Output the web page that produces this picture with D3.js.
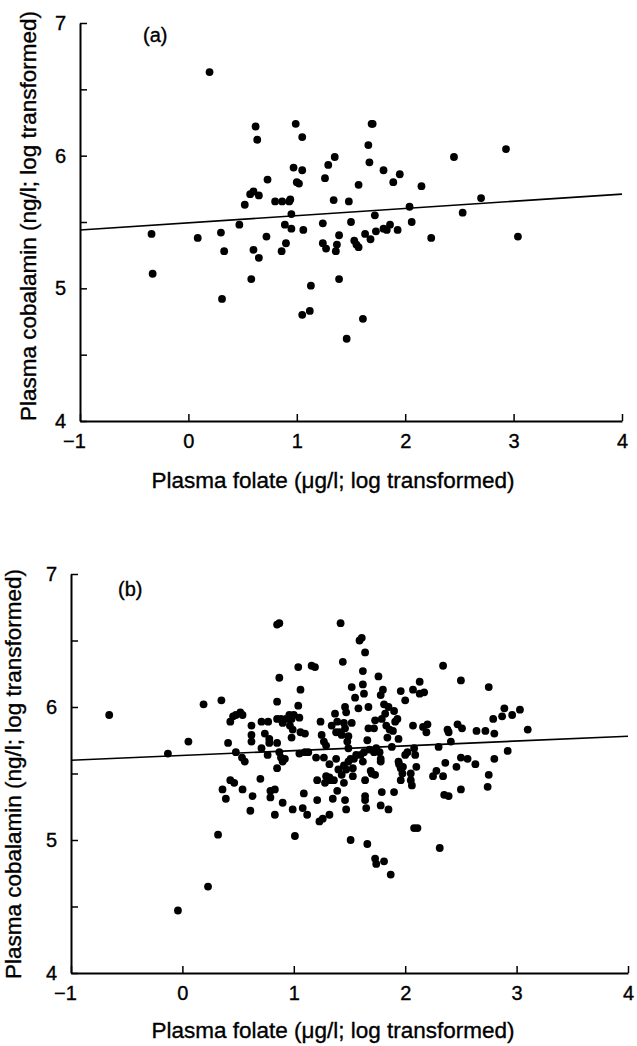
<!DOCTYPE html>
<html>
<head>
<meta charset="utf-8">
<script src="https://cdn.jsdelivr.net/npm/d3@7"></script>
<style>
  body { margin: 0; background: #fff; }
  svg { display: block; font-family: "Liberation Sans", Arial, sans-serif; }
  text { stroke: #000; stroke-width: 0.35px; }
</style>
</head>
<body>
<svg id="chart" width="637" height="1046"></svg>
<script>
// panel (a) points: folate (x) and cobalamin (y), both log transformed
var aFolate = [0.195, -0.34, -0.33, 0.086, 0.30, 0.33, 0.31, 0.47, 0.52, 0.57, 0.60, 0.65, 0.62, 0.635,
  0.73, 0.60, 0.65, 0.58, 0.72, 0.80, 0.865, 0.94, 0.93, 0.89, 0.95, 0.95, 0.86, 0.90, 0.97, 0.99,
  1.00, 1.02, 1.05, 1.05, 1.06, 1.13, 1.05, 1.12, 1.24, 1.26, 1.29, 1.35, 1.34, 1.24, 1.27, 1.36,
  1.37, 1.39, 1.39, 1.46, 1.48, 1.50, 1.57, 1.53, 1.55, 1.57, 1.61, 1.63, 1.66, 1.67, 1.69, 1.70,
  1.72, 1.68, 1.73, 1.80, 1.80, 1.83, 1.86, 1.89, 1.95, 1.93, 2.04, 2.06, 2.15, 2.24, 2.45, 2.53,
  2.70, 2.93, 3.04];
var aCobal = [6.63, 5.41, 5.11, 5.38, 5.42, 5.28, 4.92, 5.48, 5.63, 5.71, 5.73, 5.70, 6.22, 6.12,
  5.82, 5.29, 5.23, 5.07, 5.39, 5.655, 5.655, 5.67, 5.655, 5.48, 5.45, 5.56, 5.28, 5.34, 5.91, 6.24,
  5.80, 5.79, 5.89, 6.14, 5.44, 5.02, 4.80, 4.83, 5.49, 5.83, 5.93, 5.99, 5.665, 5.34, 5.30, 5.28,
  5.33, 5.40, 5.07, 4.62, 5.655, 5.50, 5.78, 5.36, 5.33, 5.31, 4.77, 5.41, 6.08, 5.95, 6.24, 6.24,
  5.55, 5.37, 5.43, 5.89, 5.45, 5.44, 5.48, 5.80, 5.86, 5.44, 5.615, 5.50, 5.77, 5.38, 5.99, 5.57,
  5.68, 6.05, 5.39];
var aFit = [5.44, 5.71];   // fitted cobalamin at x = -1 and x = 4

// panel (b) points
var bFolate = [-0.657, -0.13, 0.054, 0.19, 0.35, 0.32, 0.23, -0.04,
  0.41, 0.43, 0.455, 0.48, 0.52, 0.54, 0.48, 0.535, 0.56, 0.43, 0.465, 0.36, 0.39, 0.54,
  0.62, 0.62, 0.62, 0.63, 0.61, 0.70, 0.71, 0.71, 0.77, 0.74, 0.78, 0.765, 0.78, 0.79, 0.79, 0.83,
  0.83, 0.85, 0.85, 0.87, 0.87, 0.85, 0.885, 0.90, 0.85, 0.87, 0.85, 0.885, 0.90, 0.92, 0.90,
  0.93, 0.96, 0.98, 0.965, 0.99, 0.98, 1.00, 1.05, 1.06, 1.10, 1.04, 1.06, 1.04, 0.99, 1.01,
  1.08, 1.09, 1.12, 1.05, 1.10, 1.13, 1.16, 1.19, 1.20, 1.21, 1.21, 1.23, 1.26, 1.32,
  1.24, 1.25, 1.27, 1.29, 1.27, 1.29, 1.28, 1.32, 1.32, 1.33, 1.35, 1.36, 1.37, 1.34, 1.39,
  1.38, 1.41, 1.43, 1.38, 1.40, 1.39, 1.42, 1.44, 1.46, 1.47, 1.45, 1.46, 1.49, 1.48, 1.49,
  1.45, 1.43, 1.45, 1.47, 1.49, 1.46, 1.47, 1.51, 1.52, 1.52, 1.55, 1.51, 1.54, 1.56, 1.53,
  1.53, 1.58, 1.59, 1.61, 1.62, 1.62, 1.63, 1.64, 1.60, 1.62, 1.63, 1.64, 1.64, 1.64, 1.65,
  1.66, 1.67, 1.66, 1.67, 1.68, 1.69, 1.70, 1.72, 1.73, 1.72, 1.73, 1.74, 1.76, 1.77, 1.78,
  1.78, 1.80, 1.79, 1.78, 1.79, 1.78, 1.73, 1.74, 1.81, 1.87, 1.85, 1.81, 1.82, 1.83, 1.84,
  1.85, 1.86, 1.88, 1.89, 1.90, 1.91, 1.93, 1.94, 1.90, 1.94, 1.945, 1.96, 1.975, 1.98, 1.96,
  2.00, 1.96, 2.00, 2.02, 2.05, 2.05, 2.06, 2.07, 2.07, 2.08, 2.09, 2.10, 2.13, 2.13, 2.17,
  2.16, 2.19, 2.20, 2.08, 2.11, 2.25, 2.28, 2.30, 2.34, 2.34, 2.35, 2.36, 2.38, 2.39, 2.39,
  2.41, 2.31, 2.46, 2.47, 2.50, 2.51, 2.50, 2.50, 2.56, 2.63, 2.64, 2.72, 2.75, 2.74, 2.75,
  2.79, 2.80, 2.80, 2.87, 2.89, 2.92, 2.96, 3.03, 3.10];
var bCobal = [5.94, 5.65, 5.74, 6.02, 6.05, 5.04, 4.65, 4.47,
  5.73, 5.89, 5.93, 5.94, 5.96, 5.94, 5.66, 5.62, 5.59, 5.45, 5.43, 5.38, 5.31, 5.38,
  5.86, 5.79, 5.74, 5.33, 5.22, 5.46, 5.89, 5.69, 5.89, 5.80, 5.76, 5.64, 5.73, 5.37, 5.32, 5.38,
  5.19, 6.04, 6.62, 6.63, 6.22, 5.91, 5.91, 5.88, 5.73, 5.66, 5.54, 5.62, 5.59, 5.61, 5.28,
  5.91, 5.94, 5.91, 5.86, 5.83, 5.77, 5.94, 5.92, 5.81, 5.80, 6.01, 6.13, 6.30, 5.23, 5.03,
  5.24, 5.35, 5.19, 5.65, 5.66, 5.66, 6.31, 6.30, 5.62, 5.45, 5.30, 5.14, 5.16, 5.19,
  5.89, 5.79, 5.74, 5.71, 5.62, 5.48, 5.43, 5.47, 5.57, 5.45, 5.31, 5.45, 5.95, 5.86, 5.89,
  5.81, 5.81, 5.79, 5.61, 5.53, 5.37, 6.63, 6.34, 6.00, 5.96, 5.88, 5.84, 5.78, 5.74, 5.69,
  5.56, 5.49, 5.43, 5.53, 5.59, 5.30, 5.23, 5.00, 5.88, 6.15, 6.07, 5.61, 5.61, 5.64, 5.54,
  5.48, 5.99, 6.50, 6.52, 6.27, 6.17, 6.10, 6.41, 5.64, 5.59, 5.66, 5.33, 5.30, 5.45, 5.24,
  4.97, 6.00, 5.75, 5.84, 5.68, 5.52, 5.50, 5.66, 5.49, 5.84, 5.90, 5.69, 6.23, 5.66, 5.59,
  6.09, 6.13, 5.91, 5.61, 5.36, 5.26, 4.86, 4.82, 4.84, 4.74, 5.23, 6.02, 5.95, 5.86, 5.77,
  6.00, 5.83, 5.70, 5.82, 5.97, 5.89, 5.91, 5.76, 5.36, 5.59, 5.57, 5.54, 5.50, 5.55, 6.12,
  6.05, 5.45, 5.64, 5.66, 5.50, 5.45, 5.41, 6.13, 5.86, 5.69, 5.64, 5.55, 6.19, 6.10, 6.11,
  5.85, 5.81, 5.87, 5.09, 5.09, 5.48, 5.52, 5.70, 6.31, 5.48, 5.34, 5.58, 5.83, 5.81, 5.33,
  5.74, 4.94, 5.55, 5.87, 6.20, 5.84, 5.62, 5.38, 5.61, 5.57, 5.82, 5.82, 5.49, 5.40, 6.15,
  5.91, 5.80, 5.61, 5.93, 5.99, 5.67, 5.94, 5.98, 5.83];
var bFit = [5.60, 5.78];

var xTicks = [-1, 0, 1, 2, 3, 4];
var yTicks = [4, 4.5, 5, 5.5, 6, 6.5, 7];
var yLabels = [4, 5, 6, 7];
var xTitle = "Plasma folate (\u03bcg/l; log transformed)";
var yTitle = "Plasma cobalamin (ng/l; log transformed)";

var svg = d3.select("#chart");

// one panel: box gives the pixel frame of the axes
function panel(xs, ys, fit, tag, box) {
    var x = d3.scaleLinear().domain([-1, 4]).range([box.left, box.right]);
    var y = d3.scaleLinear().domain([4, 7]).range([box.bottom, box.top]);
    var g = svg.append("g");

    var xAxis = d3.axisBottom(x).tickValues(xTicks).tickSizeInner(-7).tickSizeOuter(0)
        .tickFormat(function (d) { return d3.format("")(d).replace("-", "\u2212"); });
    var gx = g.append("g").attr("transform", "translate(0," + box.bottom + ")").call(xAxis);
    gx.selectAll("text").attr("y", 13).attr("dy", "0.71em")
        .attr("dx", function (d) { return d < 0 ? "-0.3em" : 0; });

    var yAxis = d3.axisLeft(y).tickValues(yTicks).tickSizeInner(-7).tickSizeOuter(0)
        .tickFormat(function (d) { return yLabels.indexOf(d) >= 0 ? d : ""; });
    var gy = g.append("g").attr("transform", "translate(" + box.left + ",0)").call(yAxis);
    gy.selectAll("text").attr("x", -box.labelGap);

    g.selectAll(".domain").attr("stroke", "#000").attr("stroke-width", 2);
    g.selectAll(".tick line").attr("stroke", "#000").attr("stroke-width", 1.5);
    g.selectAll(".tick text").attr("font-size", 20).attr("fill", "#000");

    g.append("line")
        .attr("x1", x(-1)).attr("y1", y(fit[0]))
        .attr("x2", x(4)).attr("y2", y(fit[1]))
        .attr("stroke", "#000").attr("stroke-width", 1.6);

    g.selectAll("circle").data(d3.range(xs.length)).join("circle")
        .attr("cx", function (i) { return x(xs[i]); })
        .attr("cy", function (i) { return y(ys[i]); })
        .attr("r", 3.9).attr("fill", "#000");

    g.append("text").attr("x", box.tagX).attr("y", box.tagY)
        .attr("font-size", 20).text(tag);

    g.append("text").attr("x", box.xTitleX).attr("y", box.xTitleY)
        .attr("text-anchor", "middle").attr("font-size", 22.5).text(xTitle);

    g.append("text")
        .attr("transform", "translate(" + box.yTitleX + "," + box.yTitleY + ") rotate(-90)")
        .attr("text-anchor", "middle").attr("font-size", 22.5).text(yTitle);
}

panel(aFolate, aCobal, aFit, "(a)", {
    left: 80, right: 622, top: 23, bottom: 421, labelGap: 14,
    tagX: 143, tagY: 42, xTitleX: 333, xTitleY: 488, yTitleX: 36, yTitleY: 216
});

panel(bFolate, bCobal, bFit, "(b)", {
    left: 71, right: 628, top: 574, bottom: 973, labelGap: 14,
    tagX: 118, tagY: 596, xTitleX: 333, xTitleY: 1038, yTitleX: 21, yTitleY: 774
});
</script>
</body>
</html>
